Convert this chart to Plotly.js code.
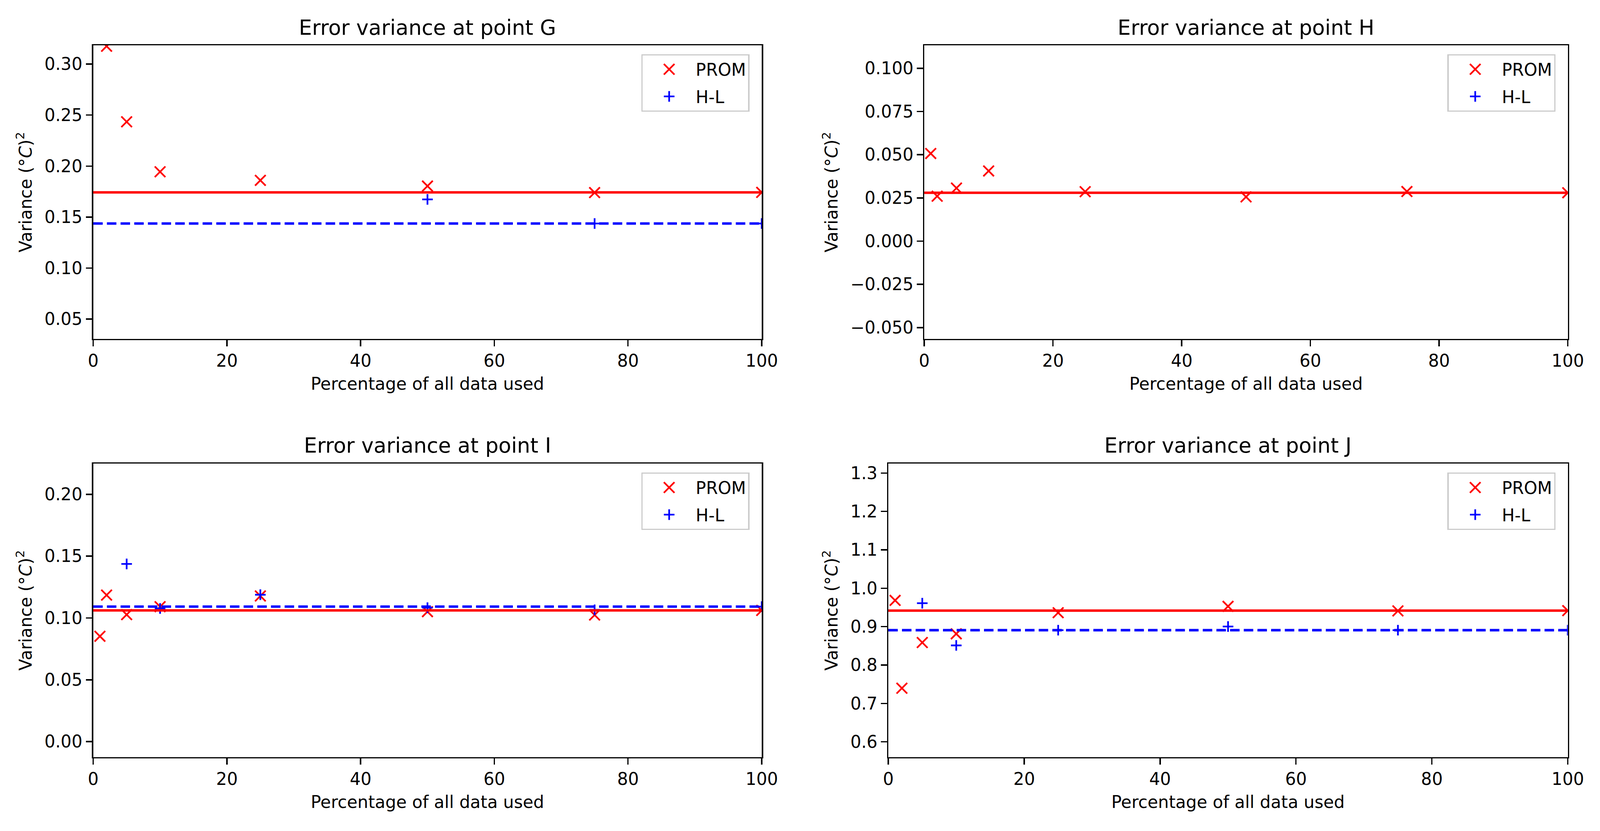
<!DOCTYPE html>
<html>
<head>
<meta charset="utf-8">
<script src="https://cdn.plot.ly/plotly-3.0.1.min.js"></script>
<style>
  html, body { margin: 0; padding: 0; background: #ffffff; overflow: hidden; }
  #chart { width: 100vw; height: 100vh; }
</style>
</head>
<body>
<div id="chart"></div>
<script>
// ---------------- data ----------------
const pct = [1, 2, 5, 10, 25, 50, 75, 100];

const titles = ["Error variance at point G", "Error variance at point H",
                "Error variance at point I", "Error variance at point J"];

// point G
const G_prom = [null, 0.3175, 0.2434, 0.1944, 0.186, 0.1804, 0.1740, 0.1742];
const G_hl   = [null, null, null, null, null, 0.1673, 0.1437, 0.1437];
const G_ref  = [0.1742, 0.1437];   // [PROM full-data, H-L full-data]

// point H
const H_prom = [0.0507, 0.0260, 0.0307, 0.0406, 0.0286, 0.0256, 0.0287, 0.0280];
const H_hl   = [null, null, null, null, null, null, null, null];
const H_ref  = [0.0280, null];

// point I
const I_prom = [0.0852, 0.1185, 0.1027, 0.1091, 0.1178, 0.1051, 0.1024, 0.1061];
const I_hl   = [null, null, 0.1437, 0.1077, 0.1188, 0.1083, 0.1066, 0.1092];
const I_ref  = [0.1061, 0.1092];

// point J
const J_prom = [0.9684, 0.7396, 0.8586, 0.8813, 0.9363, 0.9529, 0.9410, 0.9417];
const J_hl   = [null, null, 0.9611, 0.8511, 0.8908, 0.9003, 0.8908, 0.8908];
const J_ref  = [0.9417, 0.8908];

const yRanges = [[0.0305, 0.3184], [-0.0566, 0.1133], [-0.0126, 0.2249], [0.560, 1.3248]];
const yDticks = [0.05, 0.025, 0.05, 0.1];
const yTick0  = [0.05, 0.0, 0.0, 0.6];
const yFormats = [".2f", ".3f", ".2f", ".1f"];
const xTickVals = [0, 20, 40, 60, 80, 100];

// ---------------- geometry (reference is 4222 x 2128) ----------------
const RW = 4222, RH = 2128;
const W = window.innerWidth || RW, H = window.innerHeight || RH;
const k = Math.min(W / RW, H / RH);
const xDom = [[246 / RW, 2010 / RW], [2439 / RW, 4137 / RW], [246 / RW, 2010 / RW], [2344 / RW, 4137 / RW]];
const yDom = [[1 - 868 / RH, 1 - 116 / RH], [1 - 868 / RH, 1 - 116 / RH],
              [1 - 1939 / RH, 1 - 1187 / RH], [1 - 1939 / RH, 1 - 1187 / RH]];

const FONT = "DejaVu Sans, Verdana, sans-serif";
const FS = 45 * k;
const proms = [G_prom, H_prom, I_prom, J_prom];
const hls = [G_hl, H_hl, I_hl, J_hl];
const refs = [G_ref, H_ref, I_ref, J_ref];

const X_SIZE = 28 * k, P_SIZE = 20 * k, MLW = 4.5 * k;

const traces = [];
const layout = {
  width: W, height: H,
  margin: {l: 0, r: 0, t: 0, b: 0},
  paper_bgcolor: "#ffffff",
  plot_bgcolor: "#ffffff",
  font: {family: FONT, size: FS, color: "#000000"},
  showlegend: true,
  annotations: [],
  shapes: []
};

for (let i = 0; i < 4; i++) {
  const n = i === 0 ? "" : String(i + 1);
  const xa = "x" + n, ya = "y" + n;
  const lg = "legend" + n;

  traces.push({
    type: "scatter", mode: "markers", name: "PROM",
    x: pct, y: proms[i], xaxis: xa, yaxis: ya, legend: lg, legendgroup: "p" + i,
    marker: {symbol: "x-thin", size: X_SIZE, color: "#ff0000",
             line: {color: "#ff0000", width: MLW}},
    cliponaxis: true
  });
  traces.push({
    type: "scatter", mode: "markers", name: "H-L",
    x: pct, y: hls[i], xaxis: xa, yaxis: ya, legend: lg, legendgroup: "h" + i,
    marker: {symbol: "cross-thin", size: P_SIZE, color: "#0000ff",
             line: {color: "#0000ff", width: MLW}},
    cliponaxis: true
  });

  // reference (full-data) horizontal lines
  if (refs[i][0] !== null) {
    layout.shapes.push({type: "line", xref: xa + " domain", yref: ya,
      x0: 0, x1: 1, y0: refs[i][0], y1: refs[i][0],
      line: {color: "#ff0000", width: 6.5 * k}, layer: "above"});
  }
  if (refs[i][1] !== null) {
    layout.shapes.push({type: "line", xref: xa + " domain", yref: ya,
      x0: 0, x1: 1, y0: refs[i][1], y1: refs[i][1],
      line: {color: "#0000ff", width: 6.5 * k, dash: (25 * k).toFixed(1) + "px," + (11 * k).toFixed(1) + "px"},
      layer: "above"});
  }

  const axCommon = {
    showline: true, linecolor: "#000000", linewidth: 3.6 * k, mirror: true,
    ticks: "outside", ticklen: 16 * k, tickwidth: 3.6 * k, tickcolor: "#000000",
    showgrid: false, zeroline: false,
    tickfont: {family: FONT, size: FS, color: "#000000"}
  };

  layout["xaxis" + n] = Object.assign({}, axCommon, {
    domain: xDom[i], anchor: ya, range: [0, 100],
    tickmode: "array", tickvals: xTickVals,
    title: {text: "Percentage of all data used", font: {family: FONT, size: FS, color: "#000000"}, standoff: 20 * k}
  });
  layout["yaxis" + n] = Object.assign({}, axCommon, {
    domain: yDom[i], anchor: xa, range: yRanges[i],
    tickmode: "linear", tick0: yTick0[i], dtick: yDticks[i], tickformat: yFormats[i],
    title: {text: "Variance (°<i>C</i>)<sup>2</sup>", font: {family: FONT, size: FS, color: "#000000"}, standoff: 20 * k}
  });

  // legend box: upper right, matplotlib-like insets
  const legLeft = xDom[i][1] - 318 / RW;
  const legTop = yDom[i][1] - 23 / RH;
  layout[lg] = {
    x: legLeft, xanchor: "left", y: legTop, yanchor: "top",
    bgcolor: "rgba(255,255,255,0.8)", bordercolor: "#cccccc", borderwidth: 3.6 * k,
    font: {family: FONT, size: FS, color: "#000000"},
    itemwidth: Math.max(30, 130 * k), traceorder: "grouped", tracegroupgap: 10 * k
  };

  layout.annotations.push({
    text: titles[i], xref: "paper", yref: "paper",
    x: (xDom[i][0] + xDom[i][1]) / 2, y: yDom[i][1] + 46 / RH,
    xanchor: "center", yanchor: "middle", showarrow: false,
    font: {family: FONT, size: 55 * k, color: "#000000"}
  });
}

Plotly.newPlot("chart", traces, layout, {staticPlot: true, displayModeBar: false}).then(function (gd) {
  // enlarge the legend symbols (plotly caps them at 16px) to match the plot markers
  const pts = gd.querySelectorAll("g.legendpoints path.scatterpts");
  pts.forEach(function (p) {
    const stroke = (p.style.stroke || "") + (p.getAttribute("style") || "");
    const isBlue = stroke.indexOf("0, 0, 255") >= 0 || stroke.indexOf("#0000ff") >= 0;
    const target = isBlue ? P_SIZE : X_SIZE;
    const s = target / 16;
    const tr = p.getAttribute("transform") || "";
    p.setAttribute("transform", tr + " scale(" + s.toFixed(3) + ")");
    p.style.strokeWidth = (MLW / s).toFixed(2) + "px";
  });
});
</script>
</body>
</html>
